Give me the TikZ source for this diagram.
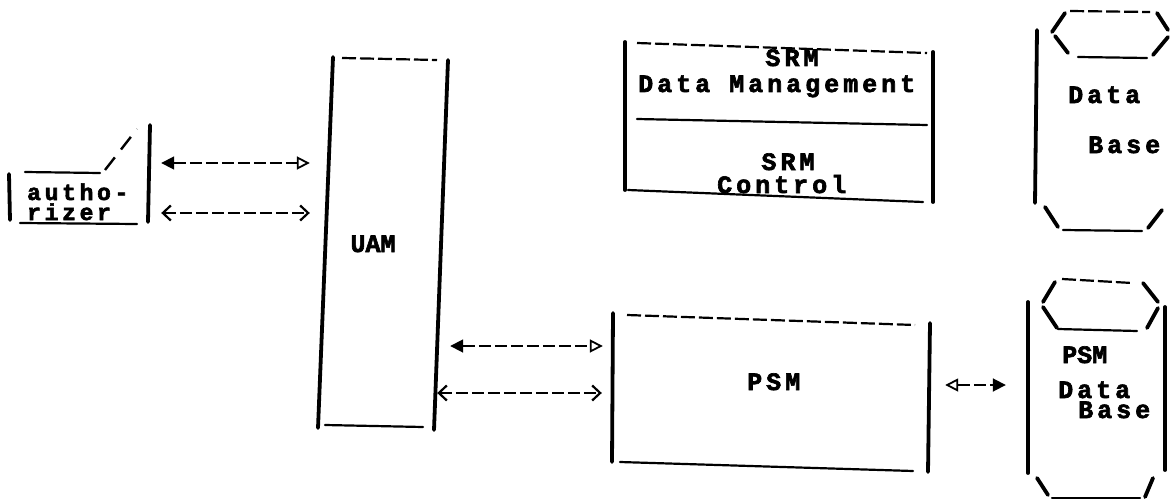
\documentclass[tikz,border=0pt]{standalone}
\usepackage{fontspec}
\newfontfamily\dotfont{Liberation Mono}[LetterSpace=16, BoldFeatures={FakeBold=2.6}]
\newfontfamily\dotfonttight{Liberation Mono}[BoldFeatures={FakeBold=2.6}]
\usetikzlibrary{arrows.meta}
\begin{document}
\begin{tikzpicture}[x=1pt,y=-1pt,
  vline/.style={line width=3.8pt, line cap=round},
  hline/.style={line width=2.2pt, line cap=round},
  dline/.style={line width=2.2pt, dash pattern=on 14pt off 4pt},
  region/.style={draw=none, rectangle, inner sep=0pt},
  lbl/.style={inner sep=0pt, font=\dotfont\bfseries\fontsize{25}{25}\selectfont},
  slbl/.style={inner sep=0pt, font=\dotfont\bfseries\fontsize{23}{23}\selectfont},
  tlbl/.style={inner sep=0pt, font=\dotfonttight\bfseries\fontsize{25}{25}\selectfont},
  flat/.style={text height=0.6em, text depth=0pt},
  conn/.style={line width=1.8pt, dash pattern=on 12pt off 4pt},
  filledopen/.style={conn, arrows={Triangle[length=13pt,width=13pt]-Triangle[open,length=13pt,width=13pt,line width=1.8pt]}},
  openfilled/.style={conn, arrows={Triangle[open,length=13pt,width=13pt,line width=1.8pt]-Triangle[length=13pt,width=13pt]}},
  barbs/.style={conn, arrows={Straight Barb[length=8pt,width=15pt,line width=2.2pt]-Straight Barb[length=8pt,width=15pt,line width=2.2pt]}}
]
\useasboundingbox (0,0) rectangle (1174,500);

% regions occupied by the blocks
\node[region, minimum width=138pt, minimum height=97pt]  (auth) at (79,174) {};
\node[region, minimum width=114pt, minimum height=370pt] (uam)  at (383,243) {};
\node[region, minimum width=317pt, minimum height=152pt] (psm)  at (770.5,392) {};
\node[region, minimum width=308pt, minimum height=153pt] (srm)  at (779,121.5) {};
\node[region, minimum width=132pt, minimum height=220pt] (db1)  at (1102,121) {};
\node[region, minimum width=137pt, minimum height=219pt] (db2)  at (1096.5,388.5) {};

% authorizer
\draw[vline] (9,174) -- (10,220);
\draw[hline] (25,172) -- (100,173);
\draw[line width=2.4pt, dash pattern=on 16pt off 10pt] (105,170) -- (137,129);
\draw[vline] (150,125) -- (148,222);
\draw[hline] (20,223) -- (137,224);
\node[slbl, flat, anchor=base west] (authA) at (27,200) {autho-};
\node[slbl, flat, anchor=base west] (authB) at (27,220) {rizer};

% UAM
\draw[vline] (333,57) -- (318,428);
\draw[dline] (342,58) -- (437,60);
\draw[vline] (448,60) -- (434,430);
\draw[hline] (325,425) -- (423,427);
\node[tlbl, anchor=base] (uamlbl) at (373,252) {UAM};

% SRM
\draw[vline] (625,42) -- (625,190);
\draw[dline] (637,43) -- (927,53);
\draw[vline] (933,52) -- (933,202);
\draw[hline] (637,119) -- (927,125);
\draw[hline] (628,190) -- (923,202);
\node[lbl, flat, anchor=base] (srmA) at (792,66) {SRM};
\node[lbl, anchor=base west] (srmB) at (638,92) {Data Management};
\node[lbl, flat, anchor=base] (srmC) at (788,170) {SRM};
\node[lbl, flat, anchor=base west] (srmD) at (717,193) {Control};

% PSM
\draw[vline] (613,313) -- (612,462);
\draw[dline] (627,315) -- (915,325);
\draw[vline] (930,323) -- (928,472);
\draw[hline] (620,462) -- (913,471);
\node[lbl, anchor=base west] (psmlbl) at (747,390) {PSM};

% Data Base
\draw[dline] (1070,11) -- (1150,12);
\draw[vline] (1065,13) -- (1052,32);
\draw[vline] (1055,36) -- (1068,53);
\draw[hline] (1078,57) -- (1147,58);
\draw[vline] (1157,13) -- (1168,30);
\draw[vline] (1168,37) -- (1153,55);
\draw[vline] (1037,30) -- (1035,203);
\draw[vline] (1045,207) -- (1058,227);
\draw[hline] (1063,230) -- (1142,231);
\draw[vline] (1162,210) -- (1148,228);
\node[lbl, anchor=base west] (db1A) at (1068,103) {Data};
\node[lbl, anchor=base west] (db1B) at (1088,153) {Base};

% PSM Data Base
\draw[dline] (1062,279) -- (1132,283);
\draw[vline] (1055,282) -- (1043,302);
\draw[vline] (1043,307) -- (1057,328);
\draw[hline] (1058,329) -- (1137,331);
\draw[vline] (1143,283) -- (1158,302);
\draw[vline] (1158,308) -- (1147,328);
\draw[vline] (1028,302) -- (1028,473);
\draw[vline] (1165,307) -- (1165,470);
\draw[vline] (1037,478) -- (1048,495);
\draw[vline] (1153,478) -- (1145,497);
\draw[hline] (1052,498) -- (1140,498);
\node[tlbl, anchor=base west] (db2A) at (1062,363) {PSM};
\node[lbl, flat, anchor=base west] (db2B) at (1058,398) {Data};
\node[lbl, flat, anchor=base west] (db2C) at (1078,418) {Base};

% connector heights
\coordinate (r1) at (0,163);
\coordinate (r2) at (0,213);
\coordinate (r3) at (0,346);
\coordinate (r4) at (0,393);
\coordinate (r5) at (0,385);

% connectors
\draw[filledopen, shorten <=13pt, shorten >=16pt] (auth.east |- r1) -- (uam.west |- r1);
\draw[barbs, shorten <=13pt, shorten >=16pt] (auth.east |- r2) -- (uam.west |- r2);
\draw[filledopen, shorten <=10pt, shorten >=9pt] (uam.east |- r3) -- (psm.west |- r3);
\draw[barbs, shorten <=-3pt, shorten >=10pt] (uam.east |- r4) -- (psm.west |- r4);
\draw[openfilled, shorten <=16pt, shorten >=22pt] (psm.east |- r5) -- (db2.west |- r5);
\end{tikzpicture}
\end{document}
